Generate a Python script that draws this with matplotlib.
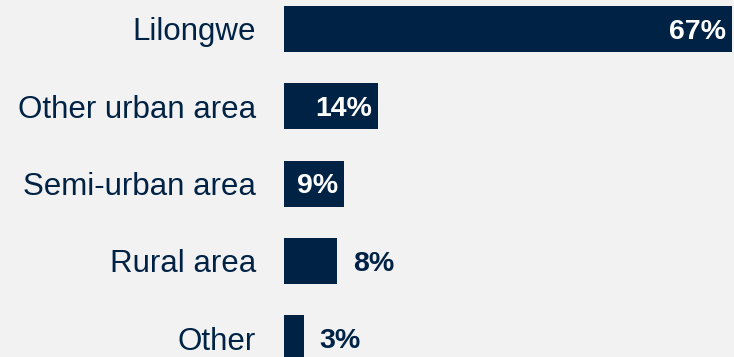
import matplotlib
matplotlib.use("Agg")
import matplotlib.pyplot as plt

categories = ["Lilongwe", "Other urban area", "Semi-urban area", "Rural area", "Other"]
shares = [67, 14, 9, 8, 3]

NAVY = "#002244"
BG = "#f2f2f2"

plt.rcParams["font.family"] = ["Liberation Sans", "DejaVu Sans"]

fig = plt.figure(figsize=(7.34, 3.57), dpi=100, facecolor=BG)
W, H = 734, 357
ax = fig.add_axes([284 / W, 0, (732 - 284) / W, 1])
ax.set_facecolor(BG)

ypos = list(range(len(categories)))
ax.barh(ypos, shares, height=0.595, color=NAVY)

ax.set_xlim(0, 67)
ax.set_ylim(4.243, -0.375)
ax.set_yticks(ypos)
ax.set_yticklabels(categories, fontsize=22.5, color=NAVY)
ax.tick_params(axis="y", length=0, pad=20)
ax.set_xticks([])
for s in ax.spines.values():
    s.set_visible(False)

for y, v in zip(ypos, shares):
    if v >= 9:
        ax.annotate(f"{v}%", xy=(v, y), xytext=(-4, -2), textcoords="offset points",
                    ha="right", va="center", color="white", fontsize=20.5,
                    fontweight="bold")
    else:
        ax.annotate(f"{v}%", xy=(v, y), xytext=(11, -2), textcoords="offset points",
                    ha="left", va="center", color=NAVY, fontsize=20.5,
                    fontweight="bold")

fig.savefig("out.png", dpi=100, facecolor=BG)
